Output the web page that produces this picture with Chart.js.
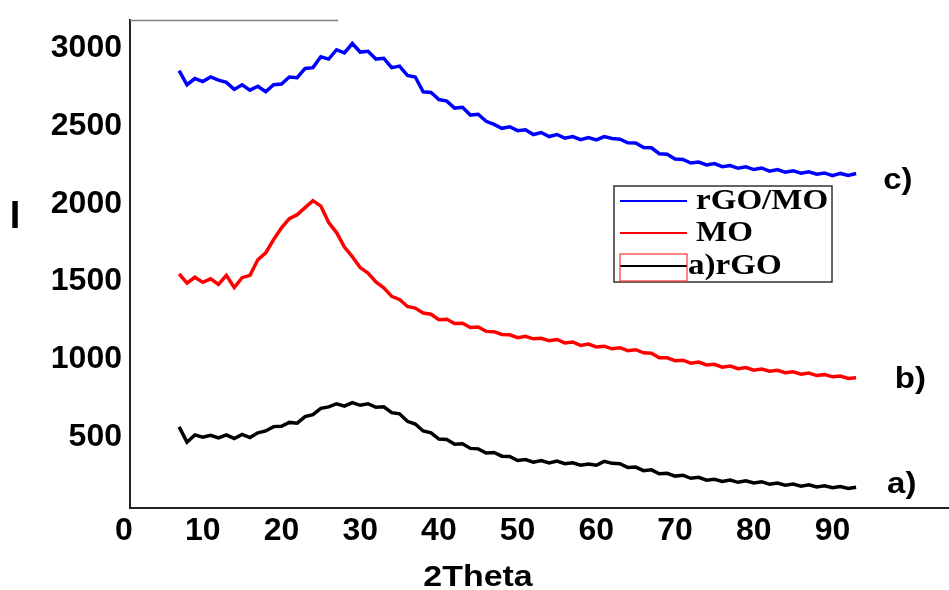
<!DOCTYPE html>
<html>
<head>
<meta charset="utf-8">
<script src="https://cdn.jsdelivr.net/npm/chart.js@4.4.1/dist/chart.umd.min.js"></script>
<style>
    body { margin: 0; background: #fff; }
    canvas { display: block; }
</style>
</head>
<body>
<canvas id="xrd" width="949" height="590"></canvas>
<script>
//DATOS
const twoTheta = [7, 8, 9, 10, 11, 12, 13, 14, 15, 16, 17, 18, 19, 20, 21, 22, 23, 24, 25, 26, 27, 28, 29, 30,
    31, 32, 33, 34, 35, 36, 37, 38, 39, 40, 41, 42, 43, 44, 45, 46, 47, 48, 49, 50, 51, 52, 53, 54, 55, 56, 57, 58,
    59, 60, 61, 62, 63, 64, 65, 66, 67, 68, 69, 70, 71, 72, 73, 74, 75, 76, 77, 78, 79, 80, 81, 82, 83, 84, 85, 86,
    87, 88, 89, 90, 91, 92, 93];

const rGOMO = [2855, 2765, 2805, 2785, 2815, 2795, 2780, 2735, 2765, 2730, 2755, 2720, 2765, 2770, 2815, 2810, 2870,
    2875, 2945, 2930, 2990, 2970, 3030, 2975, 2980, 2930, 2935, 2875, 2885, 2825, 2815, 2720, 2715, 2670, 2660, 2615,
    2620, 2570, 2575, 2530, 2510, 2485, 2495, 2470, 2475, 2445, 2458, 2432, 2445, 2422, 2432, 2412, 2425, 2410, 2432,
    2420, 2415, 2392, 2390, 2362, 2360, 2322, 2318, 2288, 2285, 2262, 2268, 2250, 2258, 2238, 2246, 2228, 2238, 2220,
    2230, 2210, 2220, 2203, 2212, 2196, 2206, 2190, 2198, 2180, 2195, 2182, 2195];

const MO = [1550, 1490, 1528, 1495, 1518, 1482, 1540, 1462, 1525, 1540, 1640, 1685, 1770, 1845, 1905, 1930, 1975,
    2020, 1985, 1880, 1815, 1722, 1660, 1590, 1555, 1498, 1460, 1405, 1385, 1340, 1330, 1298, 1290, 1255, 1258, 1230,
    1232, 1205, 1208, 1180, 1178, 1160, 1158, 1140, 1148, 1132, 1136, 1120, 1128, 1106, 1112, 1090, 1098, 1080, 1085,
    1068, 1075, 1056, 1062, 1042, 1040, 1010, 1010, 992, 995, 976, 983, 964, 968, 950, 957, 940, 948, 931, 938, 924,
    930, 914, 920, 905, 912, 896, 902, 888, 893, 878, 882];

const rGO = [566, 468, 515, 500, 512, 495, 515, 492, 518, 498, 528, 540, 568, 570, 595, 590, 632, 645, 685, 695, 715,
    700, 722, 705, 715, 692, 695, 658, 650, 602, 585, 540, 528, 488, 485, 455, 458, 428, 425, 398, 402, 378, 376, 350,
    356, 340, 350, 335, 346, 330, 336, 320, 328, 320, 345, 332, 330, 305, 308, 285, 290, 265, 268, 250, 256, 236, 242,
    224, 230, 216, 225, 210, 220, 206, 214, 198, 206, 192, 199, 185, 194, 180, 188, 175, 183, 170, 178];

const xTicks = [0, 10, 20, 30, 40, 50, 60, 70, 80, 90];
const yTicks = [500, 1000, 1500, 2000, 2500, 3000];

const seriesNames = ['rGO/MO', 'MO', 'a)rGO'];
const seriesColors = ['#0000ff', '#ff0000', '#000000'];

//ETIQUETAS a) b) c) (en coordenadas de datos)
const curveTags = ['c)', 'b)', 'a)'];
const tagX = [98.3, 99.9, 98.8];
const tagY = [2150, 870, 195];

const toPoints = (vals) => vals.map((v, i) => ({ x: twoTheta[i], y: v }));

const FONT = "Arial, 'Liberation Sans', sans-serif";
const SERIF = "'Liberation Serif', 'Times New Roman', serif";

//texto un poco estirado en horizontal, como en la imagen original
function wideText(ctx, txt, x, y, sx) {
    ctx.save();
    ctx.translate(x, y);
    ctx.scale(sx, 1);
    ctx.fillText(txt, 0, 0);
    ctx.restore();
}

//PLUGIN: leyenda, etiquetas y detalles del marco
const extras = {
    id: 'extras',
    afterDraw(chart) {
        const ctx = chart.ctx;
        const xs = chart.scales.x, ys = chart.scales.y;
        const area = chart.chartArea;
        ctx.save();

        //linea superior parcial
        ctx.strokeStyle = '#808080';
        ctx.lineWidth = 1.5;
        ctx.beginPath();
        ctx.moveTo(area.left, area.top + 0.5);
        ctx.lineTo(338, area.top + 0.5);
        ctx.stroke();

        //titulos de ejes
        ctx.fillStyle = '#000';
        ctx.font = 'bold 38px ' + FONT;
        ctx.textAlign = 'center';
        ctx.textBaseline = 'middle';
        ctx.fillText('I', 15, 218);
        ctx.font = 'bold 29px ' + FONT;
        wideText(ctx, '2Theta', 478, 578, 1.17);

        //a) b) c)
        ctx.font = 'bold 30px ' + FONT;
        curveTags.forEach((t, i) => {
            wideText(ctx, t, xs.getPixelForValue(tagX[i]), ys.getPixelForValue(tagY[i]), 1.1);
        });

        //leyenda
        const bx = 614, by = 186, bw = 218, bh = 96;
        ctx.fillStyle = '#fff';
        ctx.fillRect(bx, by, bw, bh);
        ctx.strokeStyle = '#333';
        ctx.lineWidth = 1.5;
        ctx.strokeRect(bx, by, bw, bh);
        const rows = [201, 233, 266];
        ctx.font = 'bold 29px ' + SERIF;
        ctx.textAlign = 'left';
        seriesNames.forEach((n, i) => {
            ctx.strokeStyle = seriesColors[i];
            ctx.lineWidth = 2;
            ctx.beginPath();
            ctx.moveTo(620, rows[i]);
            ctx.lineTo(687, rows[i]);
            ctx.stroke();
            ctx.fillStyle = '#000';
            wideText(ctx, n, i == 2 ? 688 : 696, rows[i] + 1, 1.14);
        });
        ctx.strokeStyle = '#ff3333';
        ctx.lineWidth = 1.2;
        ctx.strokeRect(620, 254, 67, 27);

        ctx.restore();
    }
};

const chartXRD = new Chart(document.getElementById('xrd').getContext('2d'), {
    type: 'line',
    plugins: [extras],
    data: {
        datasets: [
            { label: seriesNames[0], data: toPoints(rGOMO), borderColor: seriesColors[0] },
            { label: seriesNames[1], data: toPoints(MO), borderColor: seriesColors[1] },
            { label: seriesNames[2], data: toPoints(rGO), borderColor: seriesColors[2] }
        ]
    },
    options: {
        responsive: false,
        animation: false,
        devicePixelRatio: 1,
        layout: { padding: { top: 20, left: 0, right: 0, bottom: 0 } },
        elements: {
            point: { radius: 0 },
            line: { borderWidth: 3.5, tension: 0 }
        },
        plugins: {
            legend: { display: false },
            tooltip: { enabled: false }
        },
        scales: {
            x: {
                type: 'linear',
                min: 0.76,
                max: 104.8,
                grid: { display: false, drawTicks: false },
                border: { display: true, color: '#222', width: 2 },
                afterBuildTicks: (axis) => { axis.ticks = xTicks.map(v => ({ value: v })); },
                afterFit: (axis) => {
                    axis.height = 82;
                    axis.paddingLeft = 0;
                    axis.paddingRight = 0;
                },
                ticks: {
                    autoSkip: false,
                    maxRotation: 0,
                    padding: 4,
                    color: '#000',
                    font: { family: FONT, size: 32, weight: 'bold' },
                    callback: (v) => String(v)
                }
            },
            y: {
                min: 45,
                max: 3181,
                grid: { display: false, drawTicks: false },
                border: { display: true, color: '#222', width: 2 },
                afterBuildTicks: (axis) => { axis.ticks = yTicks.map(v => ({ value: v })); },
                afterFit: (axis) => {
                    axis.width = 130;
                    axis.paddingTop = 0;
                    axis.paddingBottom = 0;
                },
                ticks: {
                    autoSkip: false,
                    padding: 8,
                    color: '#000',
                    font: { family: FONT, size: 32, weight: 'bold' },
                    callback: (v) => String(v)
                }
            }
        }
    }
});
</script>
</body>
</html>
